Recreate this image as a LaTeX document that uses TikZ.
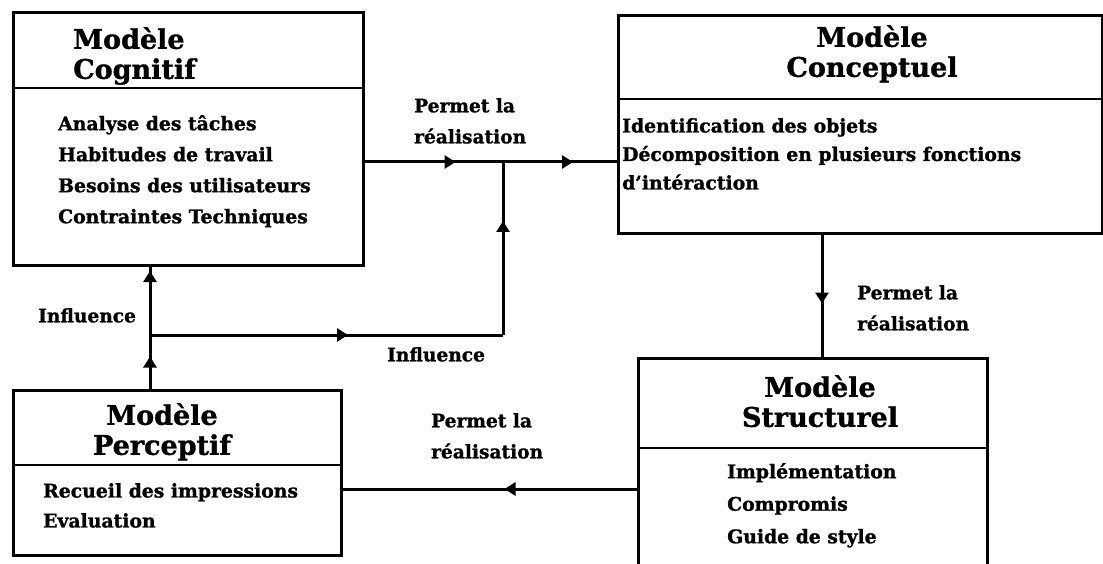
\documentclass[tikz,border=0pt]{standalone}
\usepackage{fontspec}
\setmainfont{DejaVu Serif}[BoldFeatures={FakeBold=1.2}]
\usetikzlibrary{arrows.meta,decorations.markings}
\begin{document}
\begin{tikzpicture}[x=1pt,y=-1pt,
  box/.style={draw, line width=3pt, inner sep=0pt, anchor=north west},
  divider/.style={line width=2.5pt},
  conn/.style={line width=3pt},
  title/.style={font=\fontsize{27}{30}\selectfont\bfseries, inner sep=0pt, align=center, anchor=north},
  items/.style={font=\fontsize{18.8}{#1}\selectfont\bfseries, inner sep=0pt, anchor=north west, align=left},
  items/.default=31,
  lbl/.style={font=\fontsize{18.6}{31}\selectfont\bfseries, inner sep=0pt, anchor=north west, align=left},
  tipat/.style={postaction={decorate}, decoration={markings,
      mark=at position #1 with {\arrow{Triangle[length=11pt,width=13pt]}}}}
]
\useasboundingbox (0,0) rectangle (1103,564);
\fill[white] (0,0) rectangle (1103,564);
\clip (0,0) rectangle (1103,564);

% the four models
\node[box, minimum width=350pt, minimum height=252pt] (cog) at (11.5,11.5) {};
\node[box, minimum width=484.5pt, minimum height=218pt] (con) at (616.5,14.5) {};
\node[box, minimum width=349.5pt, minimum height=260pt] (str) at (636.5,356.5) {};
\node[box, minimum width=328pt, minimum height=165pt] (per) at (11.5,388.5) {};

% header separators
\draw[divider] (cog.west |- 0,88) -- (cog.east |- 0,88);
\draw[divider] (con.west |- 0,99) -- (con.east |- 0,99);
\draw[divider] (str.west |- 0,448) -- (str.east |- 0,448);
\draw[divider] (per.west |- 0,465) -- (per.east |- 0,465);

% titles
\node[title, align=left, anchor=north west] (cogT) at (73,27) {Modèle\\Cognitif};
\node[title] (conT) at (872,25) {Modèle\\Conceptuel};
\node[title] (strT) at (820,375) {Modèle\\Structurel};
\node[title] (perT) at (162,403) {Modèle\\Perceptif};

% contents
\node[items=31] (cogI) at (58,115) {Analyse des tâches\\Habitudes de travail\\Besoins des utilisateurs\\Contraintes Techniques};
\node[items=28.5] (conI) at (622,118) {Identification des objets\\Décomposition en plusieurs fonctions\\d'intéraction};
\node[items=32.5] (strI) at (727,463) {Implémentation\\Compromis\\Guide de style};
\node[items=30] (perI) at (43,483) {Recueil des impressions\\Evaluation};

% junction points
\coordinate (j1) at (503,162);
\coordinate (j2) at (503,335);
\coordinate (j3) at (150,335);
\coordinate (j4) at (822,0);
\coordinate (j5) at (0,489);

% connectors
\draw[conn, tipat=91pt] (cog.east |- j1) -- (j1);
\draw[conn, tipat=70pt] (j1) -- (con.west |- j1);
\draw[conn, tipat=114pt] (j2) -- (j1);
\draw[conn, tipat=198pt] (j3) -- (j2);
\draw[conn, tipat=32pt] (per.north -| j3) -- (j3);
\draw[conn, tipat=64pt] (j3) -- (cog.south -| j3);
\draw[conn, tipat=68pt] (con.south -| j4) -- (str.north -| j4);
\draw[conn, tipat=132pt] (str.west |- j5) -- (per.east |- j5);

% connector labels
\node[lbl] (l1) at (414,98) {Permet la\\réalisation};
\node[lbl] (l2) at (857,285) {Permet la\\réalisation};
\node[lbl] (l3) at (431,413) {Permet la\\réalisation};
\node[lbl] (l4) at (38,308) {Influence};
\node[lbl] (l5) at (387,347) {Influence};
\end{tikzpicture}
\end{document}
